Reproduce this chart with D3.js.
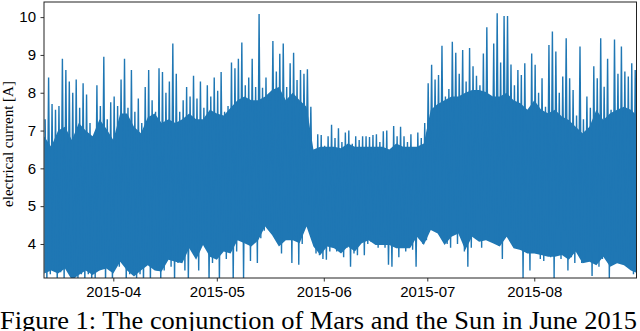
<!DOCTYPE html>
<html>
<head>
<meta charset="utf-8">
<script src="https://cdn.jsdelivr.net/npm/d3@7"></script>
<style>
body { margin: 0; background: #fff; }
svg { display: block; font-family: "Liberation Serif", "DejaVu Serif", serif; }
</style>
</head>
<body>
<div class="graph"></div>
<script>
// daily max / min of the current, one value per day starting 2015-03-12
let startDay = "2015-03-12"

let dailyHigh = [
    7.3, 8.4, 7.7, 7.55, 7.65, 8.9, 8.6, 8.3, 8.0, 8.35, 7.6, 8.25, 7.95, 7.2, 6.8, 8.2, 7.65, 8.95, 7.3, 7.75,
    7.9, 7.65, 8.35, 8.9, 7.6, 8.6, 7.5, 7.85, 7.2, 8.15, 8.6, 7.8, 7.5, 8.65, 8.55,
    8.0, 8.3, 9.3, 8.5, 7.5, 7.8, 8.15, 7.9, 8.45, 7.85, 8.3, 7.6, 8.2, 7.9, 8.4, 8.05, 8.55, 7.5, 7.65, 8.8,
    8.65, 8.9, 9.33, 8.2, 8.4, 8.9, 8.15, 10.08, 8.13, 8.4, 7.8, 9.37, 8.56, 9.03, 9.3,
    8.15, 8.78, 9.06, 8.34, 8.6, 8.5, 8.62, 7.63, 6.45, 6.9, 6.88, 6.6, 6.85, 7.15, 6.8, 7.06, 6.7, 6.95, 7.0, 6.65,
    6.85, 6.75, 6.85, 6.85, 6.83, 6.88, 6.9, 6.7, 6.98, 7.0, 6.45, 7.12, 6.85, 7.1,
    6.85, 6.7, 6.9, 6.5, 6.95, 6.8, 7.2, 8.25, 8.74, 8.35, 8.47, 9.24, 7.9, 8.1, 9.35, 9.06, 8.5, 9.13, 8.3, 9.18,
    8.7, 8.45, 8.2, 9.04, 9.73, 7.9, 9.3, 10.1, 8.8, 10.03, 10.03, 8.75, 8.2, 8.6,
    8.47, 8.78, 7.0, 9.04, 8.74, 8.0, 8.38, 7.63, 9.26, 9.62, 9.09, 8.0, 8.43, 9.44, 8.38, 8.07, 7.4, 9.22, 7.3, 7.9,
    7.6, 8.7, 8.38, 9.44, 8.16, 8.9, 7.55, 9.41, 8.5, 9.22, 8.56, 8.43, 8.78, 8.6
]

let dailyLow = [
    3.0, 3.2, 3.3, 3.0, 3.25, 3.0, 3.35, 3.4, 3.0, 3.05, 3.2, 3.0, 3.2, 3.0, 3.1, 3.3, 3.7, 3.0, 3.4, 3.0,
    3.6, 3.4, 3.55, 3.0, 3.2, 3.3, 3.0, 3.2, 3.0, 3.5, 3.0, 3.45, 3.3, 3.0, 3.3, 3.8, 3.4, 3.0, 3.5, 3.6,
    3.3, 3.0, 4.0, 3.8, 3.3, 4.1, 3.9, 3.0, 3.5, 3.7, 3.0, 4.3, 3.6, 3.9, 3.0, 3.8, 4.35, 3.1,
    4.0, 3.55, 4.1, 3.5, 4.15, 4.35, 4.55, 4.5, 4.35, 4.1, 3.75, 4.65, 4.3, 3.5, 4.2, 3.45, 4.0, 5.1, 5.05, 4.45,
    3.75, 3.7, 3.6, 3.58, 3.8, 4.0, 3.8, 4.1, 3.65, 3.9, 3.4, 3.75, 3.7, 4.1, 3.7, 4.0, 4.05, 4.1, 3.9, 4.2,
    3.9, 3.45, 3.4, 4.0, 3.65, 4.0, 3.8, 4.0, 3.85, 3.4, 4.25, 4.0, 4.1, 4.6, 4.45, 4.6, 4.35,
    4.25, 4.0, 3.9, 4.9, 4.0, 5.0, 3.8, 3.4, 3.9, 4.3, 4.9, 3.9, 4.2, 4.2, 4.8, 4.05, 3.95, 3.6, 5.0, 4.2,
    4.3, 3.9, 4.1, 3.1, 3.85, 3.3, 3.8, 3.8, 3.6, 3.55, 3.8, 3.65, 3.1, 4.4, 3.6, 4.35, 3.3, 3.65, 3.5, 3.8,
    3.5, 3.6, 3.8, 3.15, 3.8, 3.4, 3.6, 3.9, 3.1, 3.45, 3.8, 3.55, 3.6, 3.5, 3.5, 3.2, 3.1
]

// the dense core of the trace (where the line overplots into a solid band),
// read every 2nd day from the same start
let bodyStep = 2
let bodyTop = [
    6.84, 6.57, 7.0, 7.1, 6.75, 7.2, 7.0, 6.85, 7.3, 7.05, 6.75, 7.45, 7.45, 7.1, 6.93, 7.35, 7.45, 7.2,
    7.3, 7.2, 7.3, 7.45, 7.3, 7.3, 7.55, 7.45, 7.4, 7.6, 7.8, 7.9, 7.8, 7.8, 7.9, 8.07, 8.15,
    7.8, 8.0, 7.8, 7.63, 6.5, 6.57, 6.57, 6.57, 6.53, 6.66, 6.57, 6.57, 6.57, 6.57, 6.57, 6.5, 6.66,
    6.57, 6.57, 6.57, 6.66, 7.55, 7.7, 7.8, 7.9, 7.9, 8.0, 8.07, 8.07, 8.02, 7.9, 7.9, 8.0, 7.8,
    7.72, 7.55, 7.8, 7.55, 7.46, 7.55, 7.37, 7.28, 7.1, 6.93, 7.1, 7.55, 7.28, 7.46, 7.55, 7.63, 7.55, 7.37
]
let bodyBottom = [
    3.22, 3.3, 3.22, 3.35, 3.05, 3.18, 3.3, 3.18, 3.3, 3.35, 3.22, 3.53, 3.3, 3.14, 3.3, 3.44, 3.3, 3.27,
    3.58, 3.53, 3.49, 3.89, 3.58, 3.97, 3.66, 3.58, 3.8, 3.75, 4.1, 4.02, 3.93, 4.1, 4.46, 4.24, 3.93,
    4.1, 4.1, 4.02, 4.46, 3.93, 3.71, 3.93, 3.89, 3.75, 3.93, 3.8, 4.02, 4.1, 3.97, 3.97, 3.97, 3.89,
    3.89, 3.89, 4.19, 3.97, 4.37, 4.28, 3.97, 4.19, 4.28, 3.84, 4.19, 4.06, 4.1, 4.02, 3.93, 4.19, 3.89,
    3.84, 3.75, 3.75, 3.71, 3.66, 3.66, 3.71, 3.58, 3.8, 3.49, 3.53, 3.44, 3.66, 3.4, 3.49, 3.44, 3.3, 3.22
]

let xTicks = ["2015-04-01", "2015-05-01", "2015-06-01", "2015-07-01", "2015-08-01"]
let yTicks = [4, 5, 6, 7, 8, 9, 10]
let yLabel = "electrical current [A]"
let caption = "Figure 1: The conjunction of Mars and the Sun in June 2015"

let parseDay = d3.timeParse("%Y-%m-%d")
let day0 = parseDay(startDay)

// one high and one low sample per day
let series = []
for (let i = 0; i < dailyHigh.length; i++) {
    let day = d3.timeDay.offset(day0, i)
    series.push({ t: d3.timeHour.offset(day, 6), v: dailyHigh[i] })
    series.push({ t: d3.timeHour.offset(day, 18), v: dailyLow[i] })
}
let body = bodyTop.map(function (d, i) {
    return { t: d3.timeDay.offset(day0, i * bodyStep), top: d, bottom: bodyBottom[i] }
})

let W = 640, H = 331
let margin = { top: 2, right: 3.5, bottom: 53, left: 44 }
let width = W - margin.left - margin.right
let height = H - margin.top - margin.bottom

let svg = d3.select(".graph").append("svg")
    .attr("width", W)
    .attr("height", H)

let g = svg.append("g")
    .attr("transform", "translate(" + margin.left + "," + margin.top + ")")

let x = d3.scaleTime()
    .domain([d3.timeHour.offset(parseDay("2015-03-11"), 22), d3.timeHour.offset(parseDay("2015-08-30"), 15)])
    .range([0, width])

let y = d3.scaleLinear()
    .domain([3.1, 10.4])
    .range([height, 0])

svg.append("defs").append("clipPath")
    .attr("id", "plotclip")
    .append("rect")
    .attr("width", width)
    .attr("height", height)

let color = "#1f77b4"

// ========= band core ============
let area = d3.area()
    .x(function (d) { return x(d.t) })
    .y0(function (d) { return y(d.bottom) })
    .y1(function (d) { return y(d.top) })

g.append("path")
    .datum(body)
    .attr("clip-path", "url(#plotclip)")
    .attr("d", area)
    .attr("fill", color)

// ========= current trace ============
let line = d3.line()
    .x(function (d) { return x(d.t) })
    .y(function (d) { return y(d.v) })

g.append("path")
    .datum(series)
    .attr("clip-path", "url(#plotclip)")
    .attr("d", line)
    .attr("fill", "none")
    .attr("stroke", color)
    .attr("stroke-width", 1.4)

// ============ axes ===============
let xAxis = d3.axisBottom(x)
    .tickValues(xTicks.map(parseDay))
    .tickFormat(d3.timeFormat("%Y-%m"))
    .tickSizeInner(3.5)
    .tickSizeOuter(0)
    .tickPadding(5)

let gx = g.append("g")
    .attr("transform", "translate(0," + height + ")")
    .call(xAxis)
gx.select(".domain").remove()
gx.selectAll("text").style("font-size", "15px").attr("fill", "#000")
gx.selectAll("line").attr("stroke", "#000").attr("stroke-width", 0.8)

let yAxis = d3.axisLeft(y)
    .tickValues(yTicks)
    .tickSizeInner(3.5)
    .tickSizeOuter(0)
    .tickPadding(4.5)

let gy = g.append("g").call(yAxis)
gy.select(".domain").remove()
gy.selectAll("text").style("font-size", "15px").attr("fill", "#000")
gy.selectAll("line").attr("stroke", "#000").attr("stroke-width", 0.8)

// frame
g.append("rect")
    .attr("width", width)
    .attr("height", height)
    .attr("fill", "none")
    .attr("stroke", "#222")
    .attr("stroke-width", 1)

svg.append("text")
    .attr("transform", "translate(13," + (margin.top + height / 2 + 4) + ") rotate(-90)")
    .attr("text-anchor", "middle")
    .style("font-size", "15px")
    .text(yLabel)

svg.append("text")
    .attr("x", 0)
    .attr("y", 329)
    .attr("textLength", 637)
    .attr("lengthAdjust", "spacingAndGlyphs")
    .style("font-size", "26px")
    .text(caption)
</script>
</body>
</html>
